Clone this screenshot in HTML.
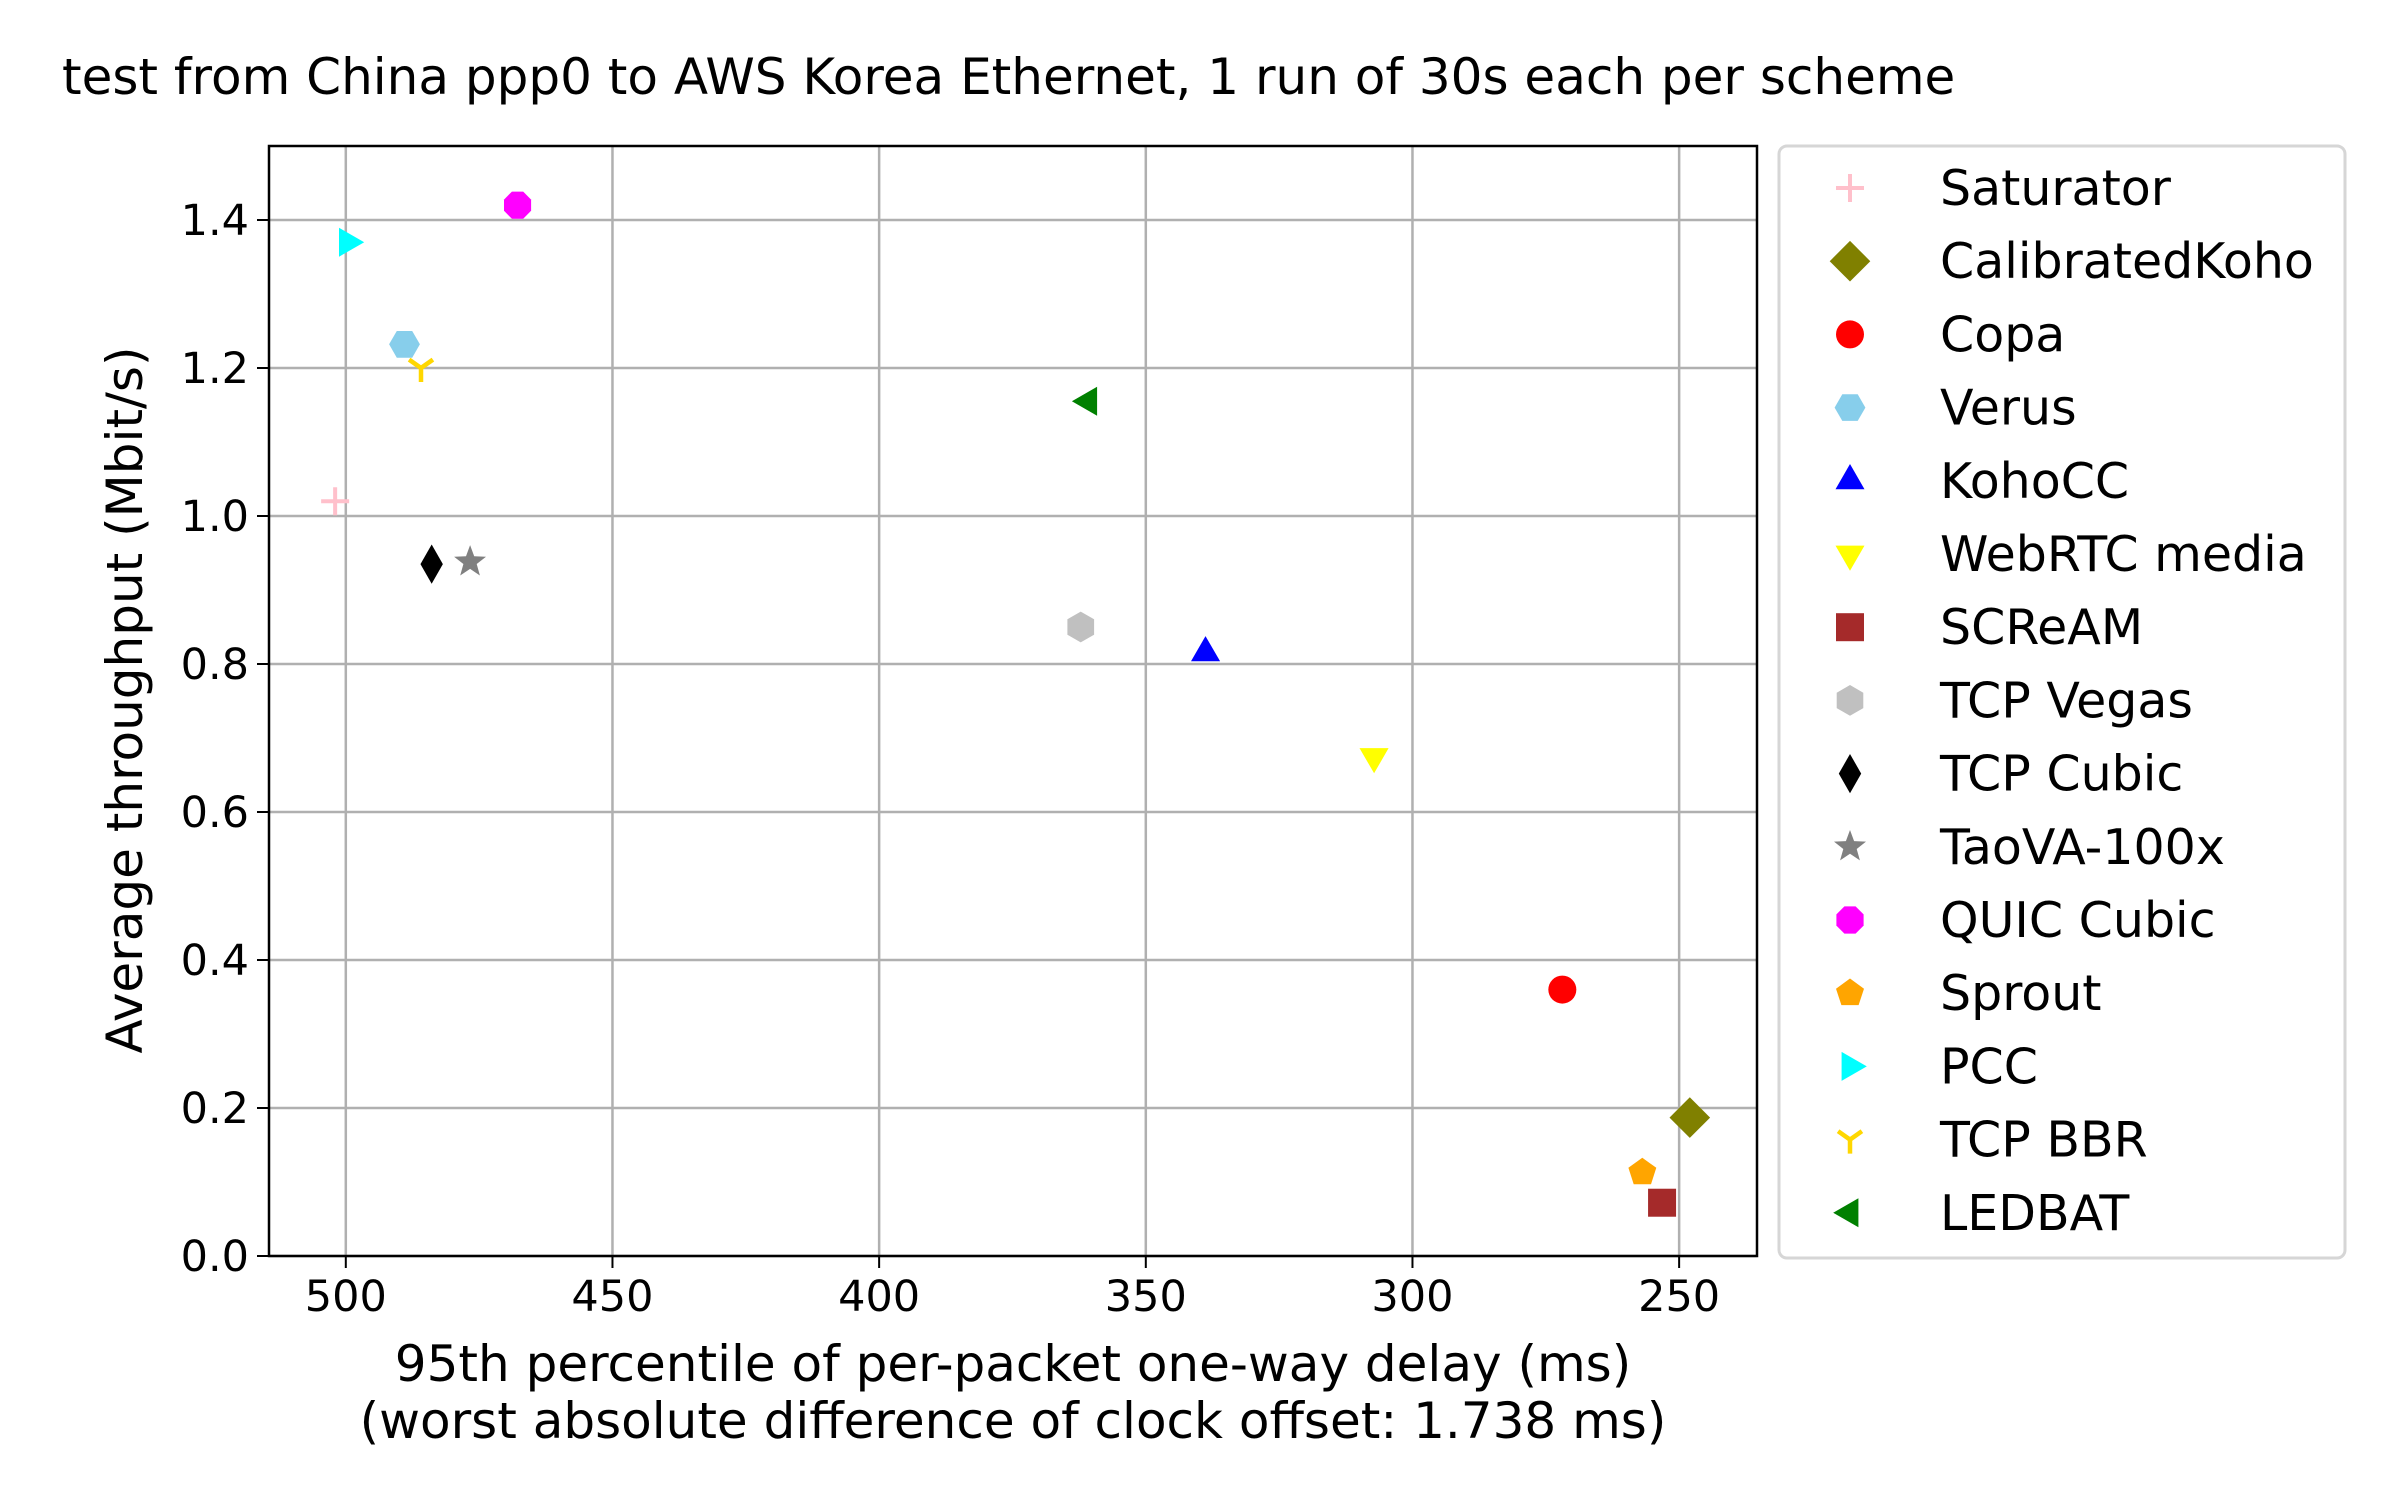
<!DOCTYPE html>
<html><head><meta charset="utf-8">
<style>
html,body{margin:0;padding:0;background:#fff;}
svg{display:block;font-family:"DejaVu Sans","Liberation Sans",sans-serif;}
</style></head>
<body>
<svg id="chart" width="2404" height="1505" viewBox="0 0 2404 1505" xmlns="http://www.w3.org/2000/svg">
<rect width="2404" height="1505" fill="#fff"/>
<text x="62" y="94" font-size="50">test from China ppp0 to AWS Korea Ethernet, 1 run of 30s each per scheme</text>
<g id="grid"></g>
<g id="ticks"></g>
<g id="marks"></g>
<rect x="269" y="146" width="1488" height="1110" fill="none" stroke="#000" stroke-width="2.5"/>
<text x="1013" y="1381" font-size="50" text-anchor="middle">95th percentile of per-packet one-way delay (ms)</text>
<text x="1013" y="1438" font-size="50" text-anchor="middle">(worst absolute difference of clock offset: 1.738 ms)</text>
<text transform="translate(142,700) rotate(-90)" font-size="50" text-anchor="middle">Average throughput (Mbit/s)</text>
<rect x="1779" y="146" width="566" height="1112" rx="8" fill="#fff" stroke="#d6d6d6" stroke-width="3"/>
<g id="legend"></g>
</svg>
<script>
const schemes = ["Saturator","CalibratedKoho","Copa","Verus","KohoCC","WebRTC media","SCReAM","TCP Vegas","TCP Cubic","TaoVA-100x","QUIC Cubic","Sprout","PCC","TCP BBR","LEDBAT"];
const delays = [502,248,271.9,489,338.8,307.2,253.2,362.2,483.9,476.7,467.8,256.9,499.7,485.9,360.7];
const throughputs = [1.02,0.187,0.36,1.232,0.815,0.675,0.072,0.85,0.935,0.938,1.42,0.113,1.37,1.2,1.155];
const colors = ["pink","olive","red","skyblue","blue","yellow","brown","silver","black","gray","magenta","orange","cyan","gold","green"];
const shapes = ["plus","diamond","circle","hexagon","triUp","triDown","square","hexagon","thinDiamond","star","octagon","pentagon","triRight","tri","triLeft"];
const xTicks = [500,450,400,350,300,250];
const yTicks = [0.0,0.2,0.4,0.6,0.8,1.0,1.2,1.4];

const L=269,R=1757,T=146,B=1256;
const xMin=514.4,xMax=235.4,yMin=0,yMax=1.5;
function xs(v){return L+(v-xMin)/(xMax-xMin)*(R-L);}
function ys(v){return B-(v-yMin)/(yMax-yMin)*(B-T);}
const NS="http://www.w3.org/2000/svg";
function mk(tag,attrs,parent){const e=document.createElementNS(NS,tag);for(const k in attrs)e.setAttribute(k,attrs[k]);parent.appendChild(e);return e;}
const grid=document.getElementById('grid'),ticks=document.getElementById('ticks'),marks=document.getElementById('marks'),legend=document.getElementById('legend');

xTicks.forEach(t=>{const x=xs(t);
 const g=mk('line',{x1:x,x2:x,y1:T,y2:B,stroke:'#b0b0b0','stroke-width':2.5},grid);
 
 
 const tk=mk('line',{x1:x,x2:x,y1:B,y2:B+12,stroke:'#000','stroke-width':2},ticks);
 
 
 const tx=mk('text',{x:x,y:B+55,'font-size':43,'text-anchor':'middle'},ticks);
 tx.textContent=t;
 
 
});
yTicks.forEach(t=>{const y=ys(t);
 const g=mk('line',{x1:L,x2:R,y1:y,y2:y,stroke:'#b0b0b0','stroke-width':2.5},grid);
 
 
 const tk=mk('line',{x1:L-12,x2:L,y1:y,y2:y,stroke:'#000','stroke-width':2},ticks);
 
 
 const tx=mk('text',{x:L-20,y:y+15,'font-size':43,'text-anchor':'end'},ticks);
 tx.textContent=t.toFixed(1);
 
 
});

function poly(n,r,rot,cx,cy){let p=[];for(let i=0;i<n;i++){const a=rot+i*2*Math.PI/n;p.push((cx+r*Math.cos(a)).toFixed(1)+','+(cy+r*Math.sin(a)).toFixed(1));}return p.join(' ');}
function marker(shape,cx,cy,color,parent){
 const s=14;let e;
 switch(shape){
  case 'plus': e=mk('path',{d:`M${cx-s} ${cy}H${cx+s}M${cx} ${cy-s}V${cy+s}`,stroke:color,'stroke-width':4,fill:'none'},parent);break;
  case 'diamond': e=mk('polygon',{points:poly(4,s*1.45,-Math.PI/2,cx,cy),fill:color},parent);break;
  case 'thinDiamond': e=mk('polygon',{points:`${cx},${cy-s*1.4} ${cx+s*0.8},${cy} ${cx},${cy+s*1.4} ${cx-s*0.8},${cy}`,fill:color},parent);break;
  case 'circle': e=mk('circle',{cx:cx,cy:cy,r:s,fill:color},parent);break;
  case 'hexagon': e=mk('polygon',{points:poly(6,s*1.1,Math.PI/2,cx,cy),fill:color},parent);if(color==='skyblue'){e.setAttribute('points',poly(6,s*1.1,0,cx,cy));}break;
  case 'octagon': e=mk('polygon',{points:poly(8,s*1.05,Math.PI/8,cx,cy),fill:color},parent);break;
  case 'pentagon': e=mk('polygon',{points:poly(5,s*1.05,-Math.PI/2,cx,cy),fill:color},parent);break;
  case 'square': e=mk('rect',{x:cx-s,y:cy-s,width:2*s,height:2*s,fill:color},parent);break;
  case 'triUp': e=mk('polygon',{points:poly(3,s*1.2,-Math.PI/2,cx,cy),fill:color},parent);break;
  case 'triDown': e=mk('polygon',{points:poly(3,s*1.2,Math.PI/2,cx,cy),fill:color},parent);break;
  case 'triRight': e=mk('polygon',{points:poly(3,s*1.2,0,cx,cy),fill:color},parent);break;
  case 'triLeft': e=mk('polygon',{points:poly(3,s*1.2,Math.PI,cx,cy),fill:color},parent);break;
  case 'star': {let p=[];for(let i=0;i<10;i++){const r=i%2?s*0.5:s*1.2;const a=-Math.PI/2+i*Math.PI/5;p.push((cx+r*Math.cos(a)).toFixed(1)+','+(cy+r*Math.sin(a)).toFixed(1));}e=mk('polygon',{points:p.join(' '),fill:color},parent);break;}
  case 'tri': e=mk('path',{d:`M${cx} ${cy}V${cy+s}M${cx} ${cy}L${cx-s*0.85} ${cy-s*0.6}M${cx} ${cy}L${cx+s*0.85} ${cy-s*0.6}`,stroke:color,'stroke-width':4.5,fill:'none'},parent);break;
 }
 return e;
}
schemes.forEach((name,i)=>{
 const m=marker(shapes[i],xs(delays[i]),ys(throughputs[i]),colors[i],marks);
 
 
 const ly=188+i*73.2;
 const lm=marker(shapes[i],1850,ly,colors[i],legend);
 
 
 const lt=mk('text',{x:1940,y:ly+17,'font-size':49},legend);
 lt.textContent=name;
 
 
});
</script>
</body></html>
